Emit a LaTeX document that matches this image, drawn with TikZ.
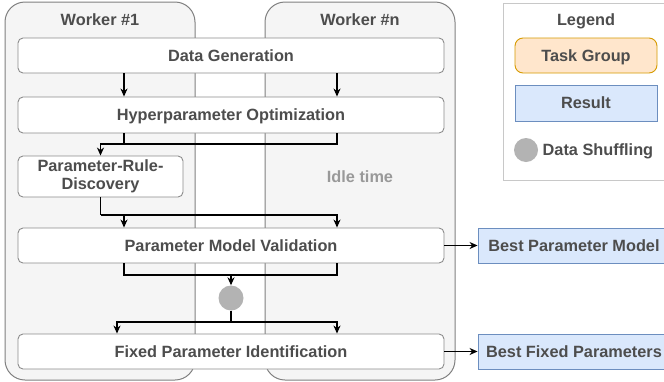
\documentclass[tikz,border=0pt]{standalone}
\usepackage{fontspec}
\setmainfont{Liberation Sans}
\usetikzlibrary{arrows.meta,calc}
\definecolor{txt}{HTML}{4D4D4D}
\definecolor{lanefill}{HTML}{F5F5F5}
\definecolor{lanedraw}{HTML}{808080}
\definecolor{boxdraw}{HTML}{8C8C8C}
\definecolor{resfill}{HTML}{DAE8FC}
\definecolor{resdraw}{HTML}{6C8EBF}
\definecolor{taskfill}{HTML}{FFE6CC}
\definecolor{taskdraw}{HTML}{D79B00}
\definecolor{shuffill}{HTML}{B3B3B3}
\definecolor{idle}{HTML}{999999}
\definecolor{legdraw}{HTML}{C8C8C8}
\begin{document}
\begin{tikzpicture}[x=1pt,y=-1pt,
  font=\fontsize{16.3}{18.5}\selectfont\bfseries,
  lane/.style={draw=lanedraw,fill=lanefill,line width=1pt,rounded corners=20pt,minimum width=190pt,minimum height=378pt,inner sep=0pt},
  taskbox/.style={draw=boxdraw,fill=white,line width=0.9pt,rounded corners=5pt,minimum height=35pt,inner sep=0pt,text=txt,align=center},
  one/.style={text height=11.7pt,text depth=0pt},
  resbox/.style={draw=resdraw,fill=resfill,line width=0.9pt,minimum height=35pt,inner sep=0pt,text=txt,one},
  lbl/.style={text=txt,inner sep=0pt,one},
  shuf/.style={circle,fill=shuffill,minimum size=25pt,inner sep=0pt},
  arr/.style={-{Stealth[length=8pt,width=7pt,inset=2.5pt]},line width=1.2pt,black},
  ln/.style={line width=1.2pt,black}]
\useasboundingbox (0,0) rectangle (664,381);
% lanes
\node[lane] (lane1) at (100,191) {};
\node[lane] (lanen) at (360,191) {};
\node[lbl] (w1) at (100,20) {Worker \#1};
\node[lbl] (wn) at (360,20) {Worker \#n};
% legend
\node[draw=legdraw,fill=white,line width=0.9pt,minimum width=167pt,minimum height=177pt,inner sep=0pt] (legend) at (586.5,91.5) {};
\node[lbl] (legt) at (586,20) {Legend};
\node[taskbox,one,draw=taskdraw,fill=taskfill,rounded corners=8pt,minimum width=142pt] (legtask) at (586,55.5) {Task Group};
\node[resbox,minimum width=142pt,minimum height=36pt] (legres) at (586,103) {Result};
\node[shuf,minimum size=24pt] (legshuf) at (526,150) {};
\node[lbl,anchor=west] (legshuft) at (542.5,150) {Data Shuffling};
% tasks
\node[taskbox,one,minimum width=426pt] (dg) at (231,55.5) {Data Generation};
\node[taskbox,one,minimum width=426pt,minimum height=36pt] (hpo) at (231,115) {Hyperparameter Optimization};
\node[taskbox,minimum width=165pt,minimum height=41pt] (prd) at (100.5,176.5) {Parameter-Rule-\\Discovery};
\node[lbl,text=idle] (idle) at (360,177) {Idle time};
\node[taskbox,one,minimum width=426pt] (pmv) at (231,245.5) {Parameter Model Validation};
\node[shuf] (shuf) at (231,298) {};
\node[taskbox,one,minimum width=426pt] (fpi) at (231,351.5) {Fixed Parameter Identification};
\node[resbox,minimum width=192pt] (bpm) at (574,245.5) {Best Parameter Model};
\node[resbox,minimum width=192pt] (bfp) at (574,351.5) {Best Fixed Parameters};
% guide coordinates
\coordinate (c1) at (124,0);
\coordinate (cn) at (337,0);
\coordinate (cf) at (117,0);
\coordinate (j1) at (0,144);
\coordinate (j2) at (0,215);
\coordinate (j3) at (0,275);
\coordinate (j4) at (0,322);
% connectors
\draw[arr] (dg.south -| c1) -- (hpo.north -| c1);
\draw[arr] (dg.south -| cn) -- (hpo.north -| cn);
\draw[ln] (hpo.south -| c1) -- (c1 |- j1);
\draw[arr] (hpo.south -| cn) |- (prd.north |- j1) -- (prd.north);
\draw[ln] (prd.south) -- (prd.south |- j2);
\draw[arr] (prd.south |- j2) -| (pmv.north -| cn);
\draw[arr] (c1 |- j2) -- (pmv.north -| c1);
\draw[ln] (pmv.south -| c1) |- (cn |- j3) -- (pmv.south -| cn);
\draw[arr] (shuf.north |- j3) -- (shuf.north);
\draw[ln] (shuf.south) -- (shuf.south |- j4);
\draw[arr] (shuf.south |- j4) -| (fpi.north -| cf);
\draw[arr] (shuf.south |- j4) -| (fpi.north -| cn);
\draw[arr] (pmv.east) -- (bpm.west);
\draw[arr] (fpi.east) -- (bfp.west);
\end{tikzpicture}
\end{document}
